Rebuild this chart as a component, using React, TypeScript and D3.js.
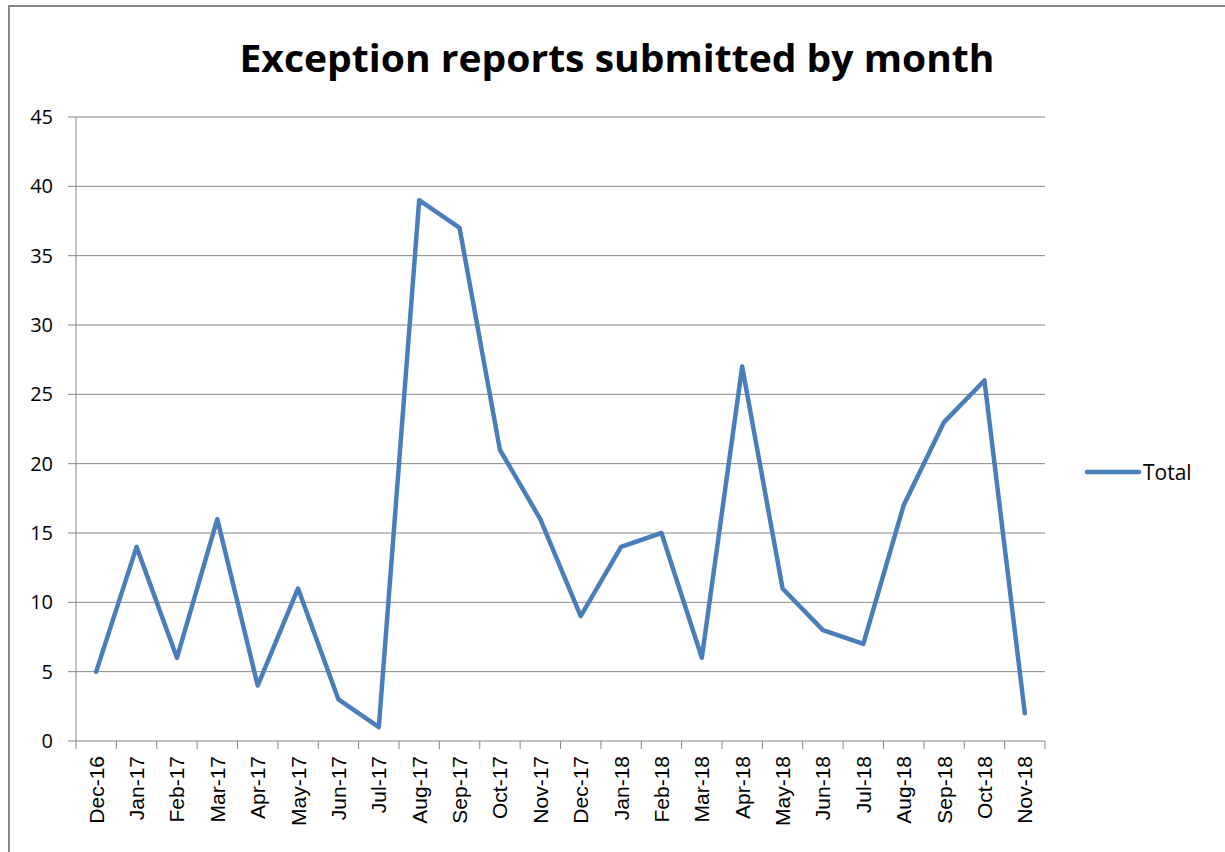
import React from "react";
import * as d3 from "d3";

const months = ["Dec-16","Jan-17","Feb-17","Mar-17","Apr-17","May-17","Jun-17","Jul-17","Aug-17","Sep-17","Oct-17","Nov-17","Dec-17","Jan-18","Feb-18","Mar-18","Apr-18","May-18","Jun-18","Jul-18","Aug-18","Sep-18","Oct-18","Nov-18"];
const totals = [5,14,6,16,4,11,3,1,39,37,21,16,9,14,15,6,27,11,8,7,17,23,26,2];
const yTicks = [0,5,10,15,20,25,30,35,40,45];
const title = "Exception reports submitted by month";
const seriesName = "Total";

export default function App() {
  const W = 1225, H = 852;
  const left = 76, right = 1045, top = 117, bottom = 741;
  const x = d3.scaleBand<string>().domain(months).range([left, right]);
  const y = d3.scaleLinear().domain([0, 45]).range([bottom, top]);
  const line = d3.line<number>()
    .x((_, i) => (x(months[i]) as number) + x.bandwidth() / 2)
    .y(d => y(d));
  const bounds = months.map(m => x(m) as number).concat([right]);
  return (
    <svg width={W} height={H} style={{ position: "absolute", left: 0, top: 0 }}>
      <rect x={0} y={0} width={W} height={H} fill="#fff" />
      <rect x={9} y={6} width={W + 20} height={H + 20} fill="none" stroke="#888" strokeWidth={2} />
      <text x={617} y={72} textAnchor="middle" fontFamily="'Open Sans', sans-serif" fontWeight="bold" fontSize={37} textLength={755} lengthAdjust="spacingAndGlyphs" fill="#000">{title}</text>
      {yTicks.map(t => (
        <g key={t}>
          <line x1={left - 8} x2={right} y1={y(t)} y2={y(t)} stroke="#888" strokeWidth={1} />
          <text x={53} y={y(t) + 7} textAnchor="end" fontFamily="'Open Sans', sans-serif" fontSize={20} fill="#000">{t}</text>
        </g>
      ))}
      <line x1={left} x2={left} y1={top} y2={bottom} stroke="#888" strokeWidth={1} />
      {bounds.map((b, i) => (
        <line key={i} x1={b} x2={b} y1={bottom} y2={bottom + 8} stroke="#888" strokeWidth={1} />
      ))}
      {months.map(m => {
        const cx = (x(m) as number) + x.bandwidth() / 2 + 7.5;
        return (
          <text key={m} transform={`translate(${cx},${bottom + 15}) rotate(-90)`} textAnchor="end" fontFamily="'Liberation Sans', Arial, sans-serif" fontSize={21} fill="#000">{m}</text>
        );
      })}
      <path d={line(totals) || ""} fill="none" stroke="#4a7ebb" strokeWidth={4.5} strokeLinejoin="round" strokeLinecap="round" />
      <line x1={1087} x2={1139} y1={472} y2={472} stroke="#4a7ebb" strokeWidth={4.5} strokeLinecap="round" />
      <text x={1143} y={480} fontFamily="'Open Sans', sans-serif" fontSize={21} fill="#000">{seriesName}</text>
    </svg>
  );
}
